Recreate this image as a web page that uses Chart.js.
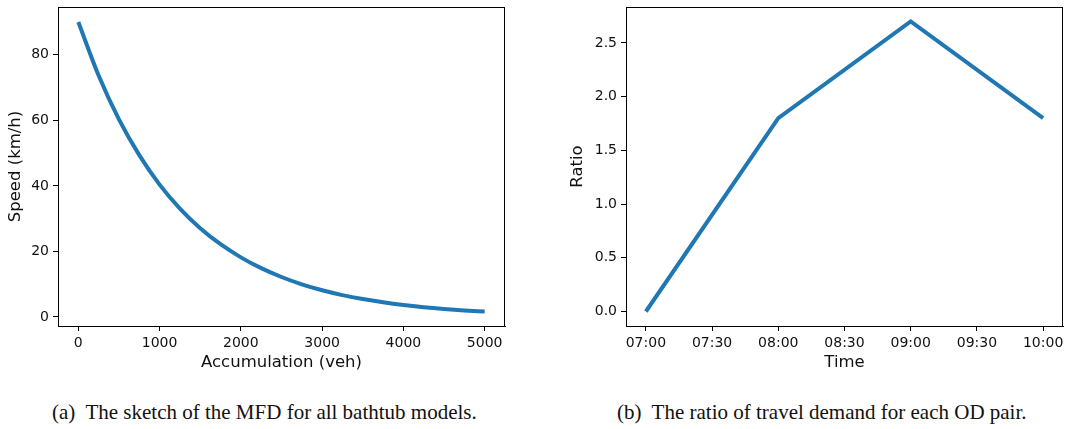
<!DOCTYPE html>
<html lang="en">
<head>
    <meta charset="UTF-8">
    <title>MFD and travel demand ratio</title>
    <script src="https://cdn.jsdelivr.net/npm/chart.js"></script>
    <style>
        body {
            margin: 0;
            background: #fff;
            width: 1089px;
            height: 429px;
            position: relative;
            overflow: hidden;
        }
        .plot {
            position: absolute;
            top: 0;
            height: 380px;
        }
        .caption {
            position: absolute;
            top: 400px;
            font-family: "Liberation Serif", "Times New Roman", serif;
            font-size: 21px;
            color: #111;
            white-space: nowrap;
        }
    </style>
</head>
<body>
    <div class="plot" style="left:0;width:540px"><canvas id="mfdChart"></canvas></div>
    <div class="plot" style="left:545px;width:544px"><canvas id="ratioChart"></canvas></div>
    <div class="caption" style="left:52px">(a)&nbsp; The sketch of the MFD for all bathtub models.</div>
    <div class="caption" style="left:617px">(b)&nbsp; The ratio of travel demand for each OD pair.</div>

    <script>
        // MFD curve
        const accumulation = [0, 250, 500, 750, 1000, 1250, 1500, 1750, 2000, 2250, 2500,
                              2750, 3000, 3250, 3500, 3750, 4000, 4250, 4500, 4750, 5000];
        const speed = [90, 73.7, 60.3, 49.4, 40.4, 33.1, 27.1, 22.2, 18.2, 14.9, 12.2,
                       9.98, 8.16, 6.68, 5.47, 4.48, 3.66, 3.0, 2.46, 2.01, 1.65];
        const accTicks = [0, 1000, 2000, 3000, 4000, 5000];
        const speedTicks = [0, 20, 40, 60, 80];

        // demand ratio (hours)
        const timeHours = [7, 8, 9, 10];
        const ratio = [0, 1.8, 2.7, 1.8];
        const timeTicks = [7, 7.5, 8, 8.5, 9, 9.5, 10];
        const timeLabels = ['07:00', '07:30', '08:00', '08:30', '09:00', '09:30', '10:00'];
        const ratioTicks = [0, 0.5, 1.0, 1.5, 2.0, 2.5];

        const blue = '#1f77b4';
        const tickFont = { family: 'DejaVu Sans', size: 14 };
        const titleFont = { family: 'DejaVu Sans', size: 16.5 };

        // draw top/right spines too
        const frame = {
            id: 'frame',
            afterDraw(chart) {
                const { ctx, chartArea: a } = chart;
                ctx.save();
                ctx.strokeStyle = '#000';
                ctx.lineWidth = 1;
                ctx.strokeRect(a.left + 0.5, a.top + 0.5, a.right - a.left - 1, a.bottom - a.top);
                ctx.restore();
            }
        };

        function fixedTicks(values) {
            return scale => { scale.ticks = values.map(v => ({ value: v })); };
        }

        function axis(opts) {
            return {
                type: 'linear',
                min: opts.min,
                max: opts.max,
                afterBuildTicks: fixedTicks(opts.ticks),
                afterFit: s => {
                    opts.fit(s);
                    // no automatic room for edge labels, layout padding handles it
                    s.paddingTop = 0; s.paddingBottom = 0;
                    s.paddingLeft = 0; s.paddingRight = 0;
                },
                grid: { display: true, drawOnChartArea: false, tickLength: 5, tickColor: '#000', tickWidth: 1 },
                border: { display: true, color: '#000', width: 1 },
                ticks: {
                    color: '#111', font: tickFont, padding: 4, maxRotation: 0, autoSkip: false,
                    callback: opts.format
                },
                title: { display: true, text: opts.title, color: '#111', font: titleFont, padding: opts.titlePad }
            };
        }

        function baseOptions() {
            return {
                responsive: true,
                maintainAspectRatio: false,
                animation: false,
                events: [],
                plugins: { legend: { display: false }, tooltip: { enabled: false } },
                elements: { point: { radius: 0 } }
            };
        }

        const mfdOpts = baseOptions();
        mfdOpts.layout = { padding: { top: 7, right: 35, left: 0, bottom: 0 } };
        mfdOpts.scales = {
            x: axis({
                min: -250, max: 5250, ticks: accTicks, title: 'Accumulation (veh)',
                titlePad: { bottom: 7 }, fit: s => { s.height = 54; },
                format: v => String(v)
            }),
            y: axis({
                min: -2.75, max: 94.6, ticks: speedTicks, title: 'Speed (km/h)',
                titlePad: { top: 6 }, fit: s => { s.width = 58; },
                format: v => String(v)
            })
        };

        new Chart(document.getElementById('mfdChart'), {
            type: 'line',
            data: {
                datasets: [{
                    data: accumulation.map((n, i) => ({ x: n, y: speed[i] })),
                    borderColor: blue,
                    borderWidth: 4,
                    cubicInterpolationMode: 'monotone',
                    fill: false
                }]
            },
            options: mfdOpts,
            plugins: [frame]
        });

        const ratioOpts = baseOptions();
        ratioOpts.layout = { padding: { top: 7, right: 26, left: 0, bottom: 0 } };
        ratioOpts.scales = {
            x: axis({
                min: 6.85, max: 10.15, ticks: timeTicks, title: 'Time',
                titlePad: { bottom: 7 }, fit: s => { s.height = 54; },
                format: v => timeLabels[timeTicks.indexOf(v)]
            }),
            y: axis({
                min: -0.135, max: 2.835, ticks: ratioTicks, title: 'Ratio',
                titlePad: { top: 23 }, fit: s => { s.width = 81; },
                format: v => v.toFixed(1)
            })
        };

        new Chart(document.getElementById('ratioChart'), {
            type: 'line',
            data: {
                datasets: [{
                    data: timeHours.map((t, i) => ({ x: t, y: ratio[i] })),
                    borderColor: blue,
                    borderWidth: 4,
                    tension: 0,
                    fill: false
                }]
            },
            options: ratioOpts,
            plugins: [frame]
        });
    </script>
</body>
</html>
